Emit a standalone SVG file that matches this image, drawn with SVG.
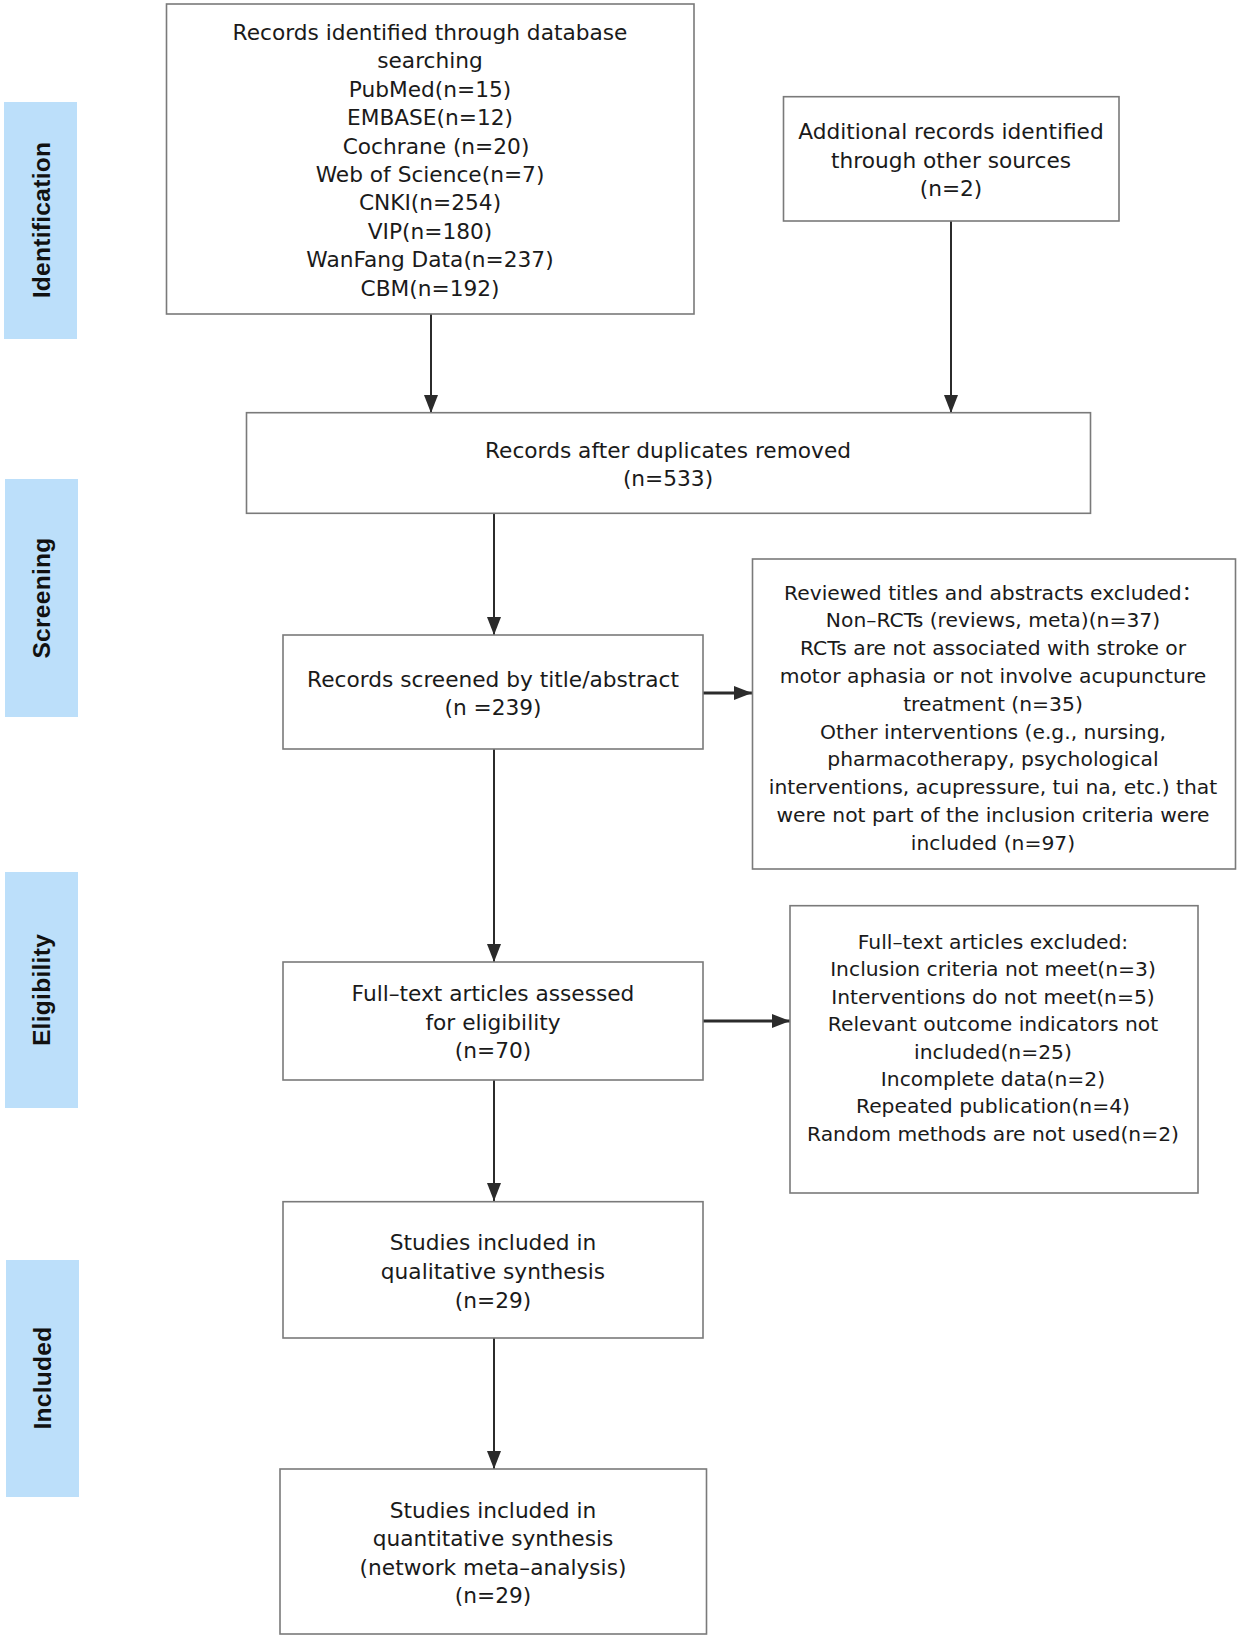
<svg xmlns="http://www.w3.org/2000/svg" width="1239" height="1637" viewBox="0 0 1239 1637">
<defs>
<style>
.box{fill:#ffffff;stroke:#7a7a7a;stroke-width:1.6}
.band{fill:#bcdffa}
.t{font-family:"DejaVu Sans","Noto Sans CJK SC",sans-serif;font-size:21.7px;fill:#1a1a1a;text-anchor:middle}
.s{font-size:20.3px}
.bl{font-family:"Liberation Sans",Arial,sans-serif;font-weight:bold;font-size:24.5px;fill:#111111;text-anchor:middle;letter-spacing:0.3px}
.c{stroke:#2b2b2b;stroke-width:2;fill:none}
.ch{stroke:#2b2b2b;stroke-width:3;fill:none}
</style>
<marker id="ah" markerUnits="userSpaceOnUse" markerWidth="20" markerHeight="14" refX="18" refY="7" orient="auto">
<path d="M0,0 L18,7 L0,14 Z" fill="#2b2b2b"/>
</marker>
</defs>
<rect width="1239" height="1637" fill="#ffffff"/>

<g id="band-identification">
<rect class="band" x="4" y="102" width="73" height="237"/>
<text class="bl" transform="translate(50,220) rotate(-90)">Identification</text>
</g>
<g id="band-screening">
<rect class="band" x="5" y="479" width="73" height="238"/>
<text class="bl" transform="translate(50,598) rotate(-90)">Screening</text>
</g>
<g id="band-eligibility">
<rect class="band" x="5" y="872" width="73" height="236"/>
<text class="bl" transform="translate(50,990) rotate(-90)">Eligibility</text>
</g>
<g id="band-included">
<rect class="band" x="6" y="1260" width="73" height="237"/>
<text class="bl" transform="translate(51,1378) rotate(-90)">Included</text>
</g>

<g id="connectors">
<line class="c" x1="431" y1="314" x2="431" y2="413" marker-end="url(#ah)"/>
<line class="c" x1="951" y1="221" x2="951" y2="413" marker-end="url(#ah)"/>
<line class="c" x1="494" y1="513" x2="494" y2="635" marker-end="url(#ah)"/>
<line class="ch" x1="703" y1="693" x2="752" y2="693" marker-end="url(#ah)"/>
<line class="c" x1="494" y1="749" x2="494" y2="962" marker-end="url(#ah)"/>
<line class="ch" x1="703" y1="1021" x2="790" y2="1021" marker-end="url(#ah)"/>
<line class="c" x1="494" y1="1080" x2="494" y2="1201" marker-end="url(#ah)"/>
<line class="c" x1="494" y1="1338" x2="494" y2="1469" marker-end="url(#ah)"/>
</g>

<g id="node-database">
<rect class="box" x="166.5" y="4" width="527.5" height="310"/>
<text class="t" x="430" y="40">Records identified through database</text>
<text class="t" x="430" y="68.4">searching</text>
<text class="t" x="430" y="96.8">PubMed(n=15)</text>
<text class="t" x="430" y="125.2">EMBASE(n=12)</text>
<text class="t" x="436" y="153.6">Cochrane (n=20)</text>
<text class="t" x="430" y="182">Web of Science(n=7)</text>
<text class="t" x="430" y="210.4">CNKI(n=254)</text>
<text class="t" x="430" y="238.8">VIP(n=180)</text>
<text class="t" x="430" y="267.2">WanFang Data(n=237)</text>
<text class="t" x="430" y="295.6">CBM(n=192)</text>
</g>

<g id="node-additional">
<rect class="box" x="783.5" y="96.7" width="335.5" height="124.3"/>
<text class="t" x="951" y="139">Additional records identified</text>
<text class="t" x="951" y="167.5">through other sources</text>
<text class="t" x="951" y="195.5">(n=2)</text>
</g>

<g id="node-duplicates">
<rect class="box" x="246.5" y="412.7" width="844" height="100.6"/>
<text class="t" x="668" y="457.5">Records after duplicates removed</text>
<text class="t" x="668" y="485.5">(n=533)</text>
</g>

<g id="node-screened">
<rect class="box" x="283" y="635" width="420" height="114"/>
<text class="t" x="493" y="686.5">Records screened by title/abstract</text>
<text class="t" x="493" y="714.5">(n =239)</text>
</g>

<g id="node-reviewed-excluded">
<rect class="box" x="752.5" y="559" width="483" height="310"/>
<text class="t s" x="993" y="599.5">Reviewed titles and abstracts excluded：</text>
<text class="t s" x="993" y="627.3">Non–RCTs (reviews, meta)(n=37)</text>
<text class="t s" x="993" y="655.1">RCTs are not associated with stroke or</text>
<text class="t s" x="993" y="682.9">motor aphasia or not involve acupuncture</text>
<text class="t s" x="993" y="710.7">treatment (n=35)</text>
<text class="t s" x="993" y="738.5">Other interventions (e.g., nursing,</text>
<text class="t s" x="993" y="766.3">pharmacotherapy, psychological</text>
<text class="t s" x="993" y="794.1">interventions, acupressure, tui na, etc.) that</text>
<text class="t s" x="993" y="821.9">were not part of the inclusion criteria were</text>
<text class="t s" x="993" y="849.7">included (n=97)</text>
</g>

<g id="node-fulltext">
<rect class="box" x="283" y="962" width="420" height="118"/>
<text class="t" x="493" y="1000.5">Full–text articles assessed</text>
<text class="t" x="493" y="1029.5">for eligibility</text>
<text class="t" x="493" y="1057.5">(n=70)</text>
</g>

<g id="node-fulltext-excluded">
<rect class="box" x="790" y="905.7" width="408" height="287.3"/>
<text class="t s" x="993" y="949">Full–text articles excluded:</text>
<text class="t s" x="993" y="976.4">Inclusion criteria not meet(n=3)</text>
<text class="t s" x="993" y="1003.8">Interventions do not meet(n=5)</text>
<text class="t s" x="993" y="1031.2">Relevant outcome indicators not</text>
<text class="t s" x="993" y="1058.6">included(n=25)</text>
<text class="t s" x="993" y="1086">Incomplete data(n=2)</text>
<text class="t s" x="993" y="1113.4">Repeated publication(n=4)</text>
<text class="t s" x="993" y="1140.8">Random methods are not used(n=2)</text>
</g>

<g id="node-qualitative">
<rect class="box" x="283" y="1201.7" width="420" height="136.3"/>
<text class="t" x="493" y="1250">Studies included in</text>
<text class="t" x="493" y="1279">qualitative synthesis</text>
<text class="t" x="493" y="1307.5">(n=29)</text>
</g>

<g id="node-quantitative">
<rect class="box" x="280" y="1469" width="426.5" height="165"/>
<text class="t" x="493" y="1517.5">Studies included in</text>
<text class="t" x="493" y="1546">quantitative synthesis</text>
<text class="t" x="493" y="1574.5">(network meta–analysis)</text>
<text class="t" x="493" y="1603">(n=29)</text>
</g>
</svg>
